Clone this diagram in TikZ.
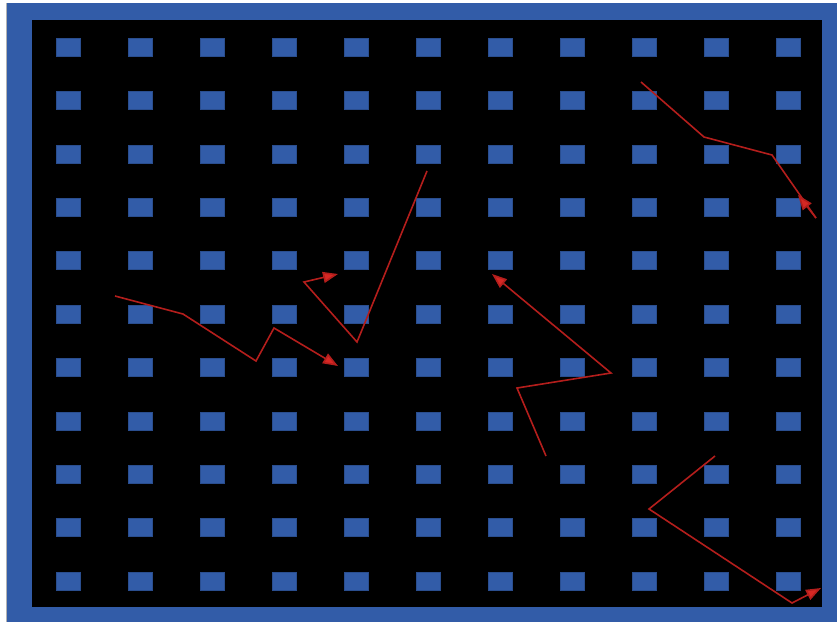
\documentclass[tikz,border=0pt]{standalone}
\usetikzlibrary{arrows.meta}
\definecolor{frameblue}{RGB}{50,92,168}
\definecolor{pathred}{RGB}{180,30,28}
\definecolor{tipred}{RGB}{214,40,36}
\begin{document}
\begin{tikzpicture}[x=1pt,y=-1pt,
  cell/.style={draw=frameblue!85!black, line width=0.4pt, fill=frameblue,
    minimum width=24pt, minimum height=18pt, inner sep=0pt},
  trail/.style={draw=pathred, line width=1.6pt, line join=miter},
  tipped/.style={trail, -{Triangle[length=15pt,width=11pt,fill=tipred]}}]
\useasboundingbox (0,0) rectangle (837,622);
\fill[white] (0,0) rectangle (837,622);
\fill[gray!60] (5.5,3) rectangle (7,622);
\fill[frameblue] (7,3) rectangle (837,622);
\fill[black] (32,20) rectangle (822,607);
\foreach \i in {0,...,10}
  \foreach \j in {0,...,10}
    \node[cell] (r-\i-\j) at ({68+72*\i},{47+53.4*\j}) {};
% path 1 (top right)
\coordinate (a0) at (641,82);
\coordinate (a1) at (704,137);
\coordinate (a2) at (772,155);
\coordinate (a3) at (816,218);
\coordinate (a4) at (798,195);
\draw[trail] (a0) -- (a1) -- (a2) -- (a3);
\draw[tipped] (a3) -- (a4);
% path 2 (left)
\coordinate (b0) at (115,296);
\coordinate (b1) at (183,314);
\coordinate (b2) at (256,361);
\coordinate (b3) at (274,328);
\coordinate (b4) at (338,366);
\draw[tipped] (b0) -- (b1) -- (b2) -- (b3) -- (b4);
% path 3 (centre)
\coordinate (c0) at (427,171);
\coordinate (c1) at (357,342);
\coordinate (c2) at (304,282);
\coordinate (c3) at (338,274);
\draw[tipped] (c0) -- (c1) -- (c2) -- (c3);
% path 4
\coordinate (d0) at (546,456);
\coordinate (d1) at (517,388);
\coordinate (d2) at (611,373);
\coordinate (d3) at (492,274);
\draw[tipped] (d0) -- (d1) -- (d2) -- (d3);
% path 5 (bottom right)
\coordinate (e0) at (715,456);
\coordinate (e1) at (649,509);
\coordinate (e2) at (792,603);
\coordinate (e3) at (821,588);
\draw[tipped] (e0) -- (e1) -- (e2) -- (e3);
\end{tikzpicture}
\end{document}
